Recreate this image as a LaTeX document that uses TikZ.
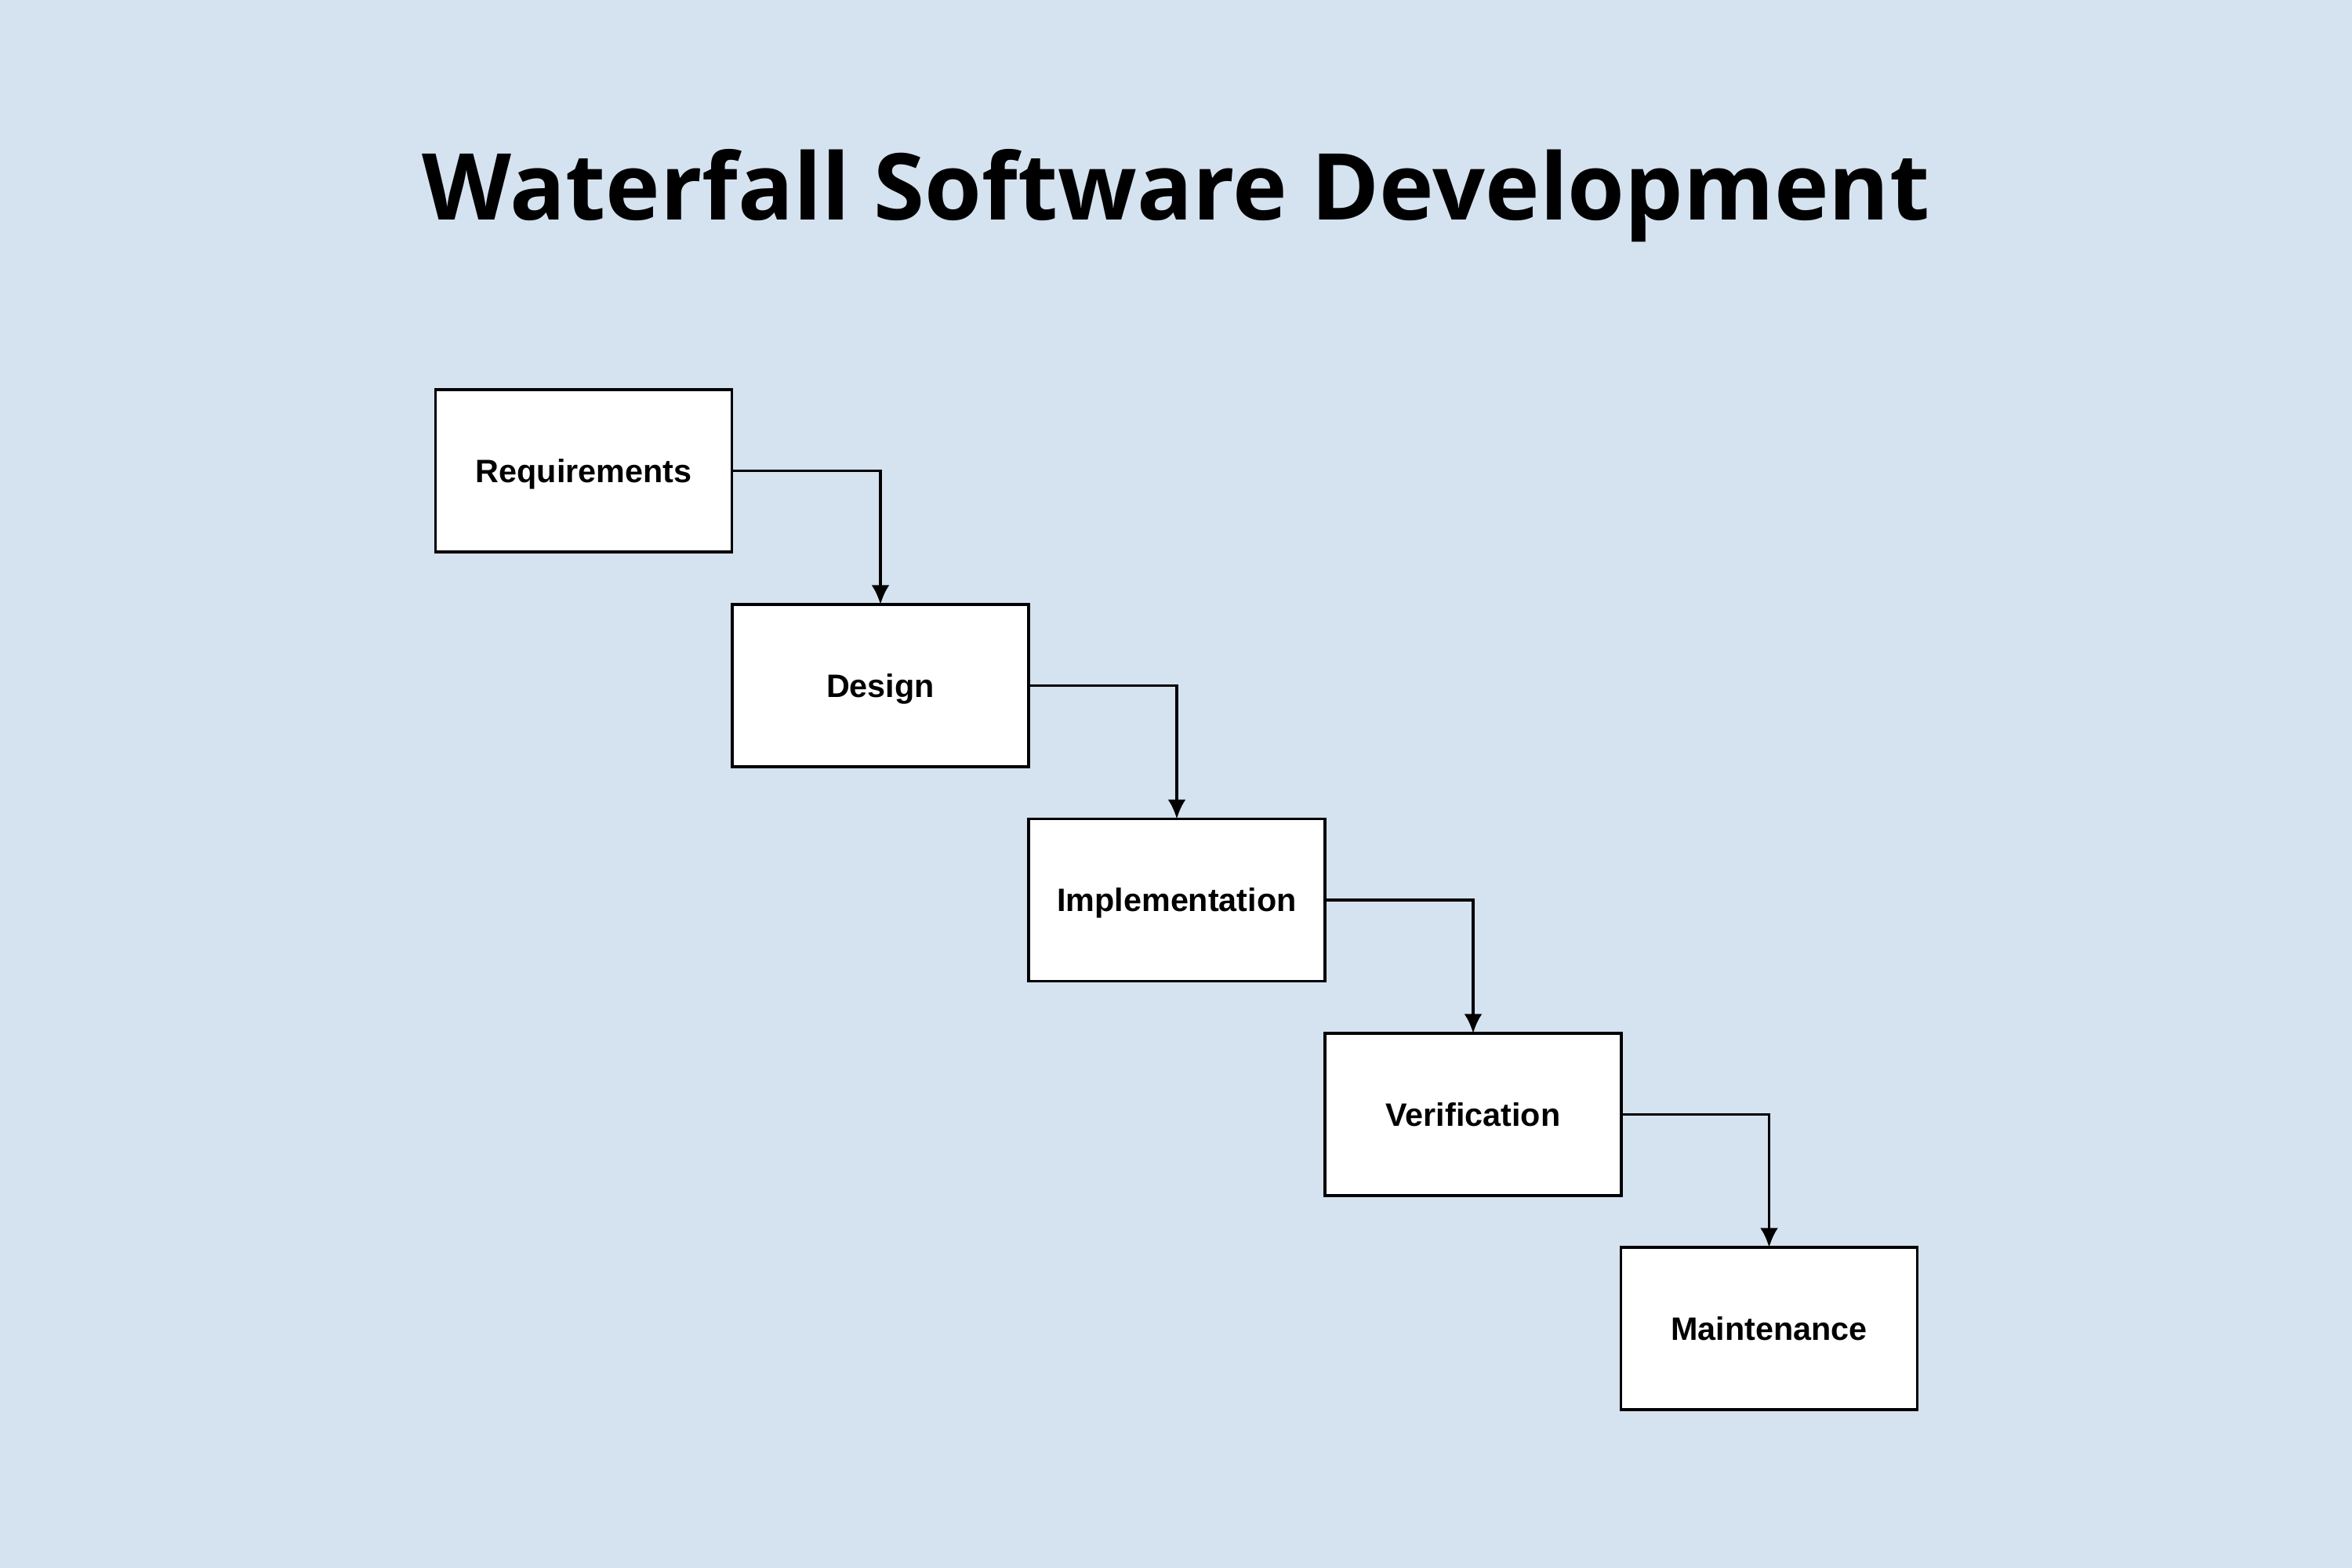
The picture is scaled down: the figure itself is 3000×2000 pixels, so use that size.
\documentclass[tikz,border=0pt]{standalone}
\usepackage{fontspec}
\setmainfont{Liberation Sans}
\newfontfamily\titlefont{Open Sans}
\usetikzlibrary{arrows.meta}
\definecolor{bg}{RGB}{213,226,239}
\begin{document}
\begin{tikzpicture}[x=0.01cm,y=-0.01cm,
  stagebox/.style={draw=black, fill=white, line width=1pt, minimum width=3.78cm, minimum height=2.07cm, inner sep=0pt, outer sep=0pt, text height=8.4pt, text depth=0pt, font=\fontsize{11.75}{14}\selectfont\bfseries},
  flow/.style={draw=black, line width=1pt, -{Latex[length=7pt,width=6.5pt]}}]
\fill[bg] (0,0) rectangle (3000,2000);
\useasboundingbox (0,0) rectangle (3000,2000);
\node[anchor=base, font=\titlefont\fontsize{33.5}{40}\selectfont\bfseries] (title) at (1500,280) {Waterfall Software Development};
\node[stagebox] (req) at (744.5,600.5) {Requirements};
\node[stagebox] (des) at (1123,874.5) {Design};
\node[stagebox] (imp) at (1501,1148) {Implementation};
\node[stagebox] (ver) at (1879,1421.5) {Verification};
\node[stagebox] (mai) at (2256.5,1694.5) {Maintenance};
\draw[flow] (req.east) -| (des.north);
\draw[flow] (des.east) -| (imp.north);
\draw[flow] (imp.east) -| (ver.north);
\draw[flow] (ver.east) -| (mai.north);
\end{tikzpicture}
\end{document}
